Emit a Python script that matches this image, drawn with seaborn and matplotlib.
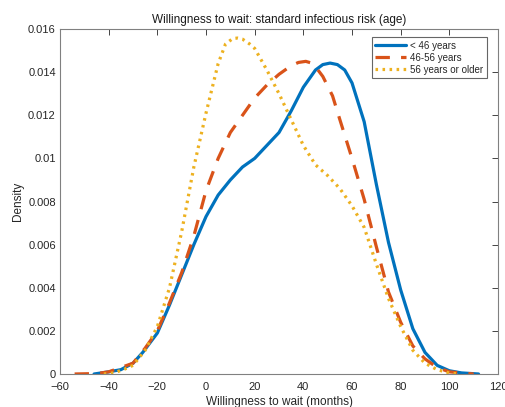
"""Willingness to wait density curves by age group."""

import matplotlib
matplotlib.use("Agg")
import matplotlib.pyplot as plt
import pandas as pd
import seaborn as sns
from matplotlib.ticker import FuncFormatter

# density curves
young_x = [-46, -40, -35, -30, -26, -20, -15, -10, -5, 0, 5, 10, 15, 20, 25, 30,
           35, 40, 45, 48, 51, 54, 57, 60, 65, 70, 75, 80, 85, 90, 95, 100, 105, 112]
young_y = [0.0, 0.0001, 0.0002, 0.0005, 0.001, 0.0019, 0.0032, 0.0046, 0.006,
           0.0073, 0.0083, 0.009, 0.0096, 0.01, 0.0106, 0.0112, 0.0122, 0.0133,
           0.0141, 0.01435, 0.01442, 0.01435, 0.0141, 0.0135, 0.0117, 0.0088,
           0.0061, 0.0039, 0.0021, 0.001, 0.0004, 0.00015, 0.00005, 0.0]

middle_x = [-54, -45, -40, -35, -30, -25, -20, -15, -10, -5, 0, 5, 10, 15, 20, 25,
            30, 35, 38, 41, 44, 48, 52, 55, 60, 65, 70, 75, 80, 85, 90, 95, 100, 110]
middle_y = [0.0, 0.00002, 0.0001, 0.0003, 0.0005, 0.0012, 0.002, 0.0033, 0.0047,
            0.0064, 0.0085, 0.01, 0.0112, 0.012, 0.0128, 0.0134, 0.0139, 0.0143,
            0.01445, 0.0145, 0.0144, 0.0138, 0.0129, 0.0118, 0.01, 0.0081, 0.0059,
            0.0038, 0.0024, 0.0013, 0.0007, 0.0003, 0.0001, 0.0]

older_x = [-42, -38, -34, -30, -25, -20, -15, -10, -5, 0, 5, 8, 11, 13, 15, 18, 20,
           25, 30, 35, 40, 45, 50, 55, 60, 65, 70, 75, 80, 85, 90, 95, 100, 104]
older_y = [0.0, 0.00005, 0.0002, 0.0004, 0.0011, 0.0022, 0.004, 0.0066, 0.0096,
           0.0121, 0.0144, 0.0153, 0.01556, 0.01558, 0.01553, 0.0153, 0.0151, 0.0141,
           0.013, 0.0118, 0.0106, 0.0097, 0.0092, 0.0086, 0.0078, 0.0068, 0.0051,
           0.0035, 0.0022, 0.0011, 0.0005, 0.0002, 0.00005, 0.0]

groups = ["< 46 years", "46-56 years", "56 years or older"]
colors = ["#0072BD", "#D95319", "#EDB120"]
styles = ["-", (0, (4.5, 3.5)), (0, (0.8, 1.4))]
widths = [2.3, 2.3, 2.3]

x_ticks = [-60, -40, -20, 0, 20, 40, 60, 80, 100, 120]
y_ticks = [0, 0.002, 0.004, 0.006, 0.008, 0.01, 0.012, 0.014, 0.016]


def main() -> None:
    sns.set_style("white")
    plt.rcParams["font.family"] = ["Liberation Sans", "DejaVu Sans"]

    fig = plt.figure(figsize=(5.06, 4.07), dpi=100)
    ax = fig.add_axes([0.1186, 0.0811, 0.8656, 0.8476])

    curves = [(young_x, young_y), (middle_x, middle_y), (older_x, older_y)]
    for (xs, ys), name, col, ls, lw in zip(curves, groups, colors, styles, widths):
        df = pd.DataFrame({"x": xs, "y": ys})
        sns.lineplot(data=df, x="x", y="y", ax=ax, color=col, linestyle=ls,
                     linewidth=lw, label=name, sort=False)

    ax.set_xlim(-60, 120)
    ax.set_ylim(0, 0.016)
    ax.set_xticks(x_ticks)
    ax.set_yticks(y_ticks)
    ax.yaxis.set_major_formatter(FuncFormatter(lambda v, _: f"{v:g}"))
    ax.tick_params(direction="in", length=4, width=0.6, top=True, right=True,
                   labelsize=8, colors="0.15", labelcolor="0.15", pad=3)
    ax.tick_params(axis="x", pad=6)
    for spine in ax.spines.values():
        spine.set_visible(True)
        spine.set_color("0.5")
        spine.set_linewidth(0.8)

    ax.set_xlabel("Willingness to wait (months)", fontsize=8.5, color="0.15",
                  labelpad=3)
    ax.set_ylabel("Density", fontsize=8.5, color="0.15", labelpad=3)
    ax.set_title("Willingness to wait: standard infectious risk (age)",
                 fontsize=8.5, color="0.1", pad=4)

    leg = ax.legend(loc="upper right", bbox_to_anchor=(0.985, 0.99),
                    fontsize=7, handlelength=3.2, handletextpad=0.4,
                    borderpad=0.35, labelspacing=0.2, fancybox=False,
                    framealpha=1)
    leg.get_frame().set_edgecolor("0.4")
    leg.get_frame().set_linewidth(0.8)

    fig.savefig("out.png", dpi=100)
    plt.close(fig)


if __name__ == "__main__":
    main()
